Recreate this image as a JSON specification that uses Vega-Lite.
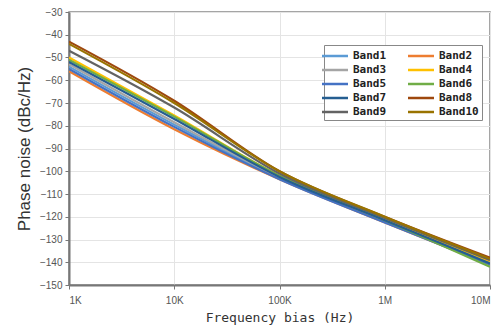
{
  "$schema": "https://vega.github.io/schema/vega-lite/v6.json",
  "width": 421,
  "height": 273,
  "autosize": {"type": "none"},
  "padding": {"left": 69, "top": 12, "right": 6, "bottom": 47},
  "background": "white",
  "config": {
    "view": {"stroke": "#888888", "strokeWidth": 1.5},
    "axis": {"gridColor": "#e4e4e4", "domainColor": "#777777", "domainWidth": 2, "tickColor": "#777777", "labelColor": "#555555", "labelFont": "Liberation Sans", "labelFontSize": 10, "titleColor": "#333333"}
  },
  "data": {"values": [
    {"f": 1000, "v": -54, "band": "Band1"}, {"f": 10000, "v": -79.5, "band": "Band1"}, {"f": 100000, "v": -103, "band": "Band1"}, {"f": 1000000, "v": -122, "band": "Band1"}, {"f": 10000000, "v": -140, "band": "Band1"},
    {"f": 1000, "v": -56, "band": "Band2"}, {"f": 10000, "v": -81.5, "band": "Band2"}, {"f": 100000, "v": -103.5, "band": "Band2"}, {"f": 1000000, "v": -122.5, "band": "Band2"}, {"f": 10000000, "v": -141, "band": "Band2"},
    {"f": 1000, "v": -53, "band": "Band3"}, {"f": 10000, "v": -78.5, "band": "Band3"}, {"f": 100000, "v": -102.5, "band": "Band3"}, {"f": 1000000, "v": -121.5, "band": "Band3"}, {"f": 10000000, "v": -140, "band": "Band3"},
    {"f": 1000, "v": -50, "band": "Band4"}, {"f": 10000, "v": -75.5, "band": "Band4"}, {"f": 100000, "v": -102, "band": "Band4"}, {"f": 1000000, "v": -121, "band": "Band4"}, {"f": 10000000, "v": -139.5, "band": "Band4"},
    {"f": 1000, "v": -55, "band": "Band5"}, {"f": 10000, "v": -80.5, "band": "Band5"}, {"f": 100000, "v": -103.5, "band": "Band5"}, {"f": 1000000, "v": -122.5, "band": "Band5"}, {"f": 10000000, "v": -141, "band": "Band5"},
    {"f": 1000, "v": -51, "band": "Band6"}, {"f": 10000, "v": -76, "band": "Band6"}, {"f": 100000, "v": -102, "band": "Band6"}, {"f": 1000000, "v": -121.5, "band": "Band6"}, {"f": 10000000, "v": -142, "band": "Band6"},
    {"f": 1000, "v": -52, "band": "Band7"}, {"f": 10000, "v": -77, "band": "Band7"}, {"f": 100000, "v": -102.5, "band": "Band7"}, {"f": 1000000, "v": -121.5, "band": "Band7"}, {"f": 10000000, "v": -140.5, "band": "Band7"},
    {"f": 1000, "v": -43, "band": "Band8"}, {"f": 10000, "v": -69, "band": "Band8"}, {"f": 100000, "v": -100, "band": "Band8"}, {"f": 1000000, "v": -120, "band": "Band8"}, {"f": 10000000, "v": -138, "band": "Band8"},
    {"f": 1000, "v": -47, "band": "Band9"}, {"f": 10000, "v": -72, "band": "Band9"}, {"f": 100000, "v": -101, "band": "Band9"}, {"f": 1000000, "v": -120.5, "band": "Band9"}, {"f": 10000000, "v": -139, "band": "Band9"},
    {"f": 1000, "v": -44, "band": "Band10"}, {"f": 10000, "v": -70, "band": "Band10"}, {"f": 100000, "v": -100, "band": "Band10"}, {"f": 1000000, "v": -120, "band": "Band10"}, {"f": 10000000, "v": -138.5, "band": "Band10"}
  ]},
  "mark": {"type": "line", "strokeWidth": 2.2, "interpolate": "monotone", "clip": true},
  "encoding": {
    "x": {
      "field": "f", "type": "quantitative",
      "scale": {"type": "log", "domain": [1000, 10000000], "nice": false},
      "axis": {"values": [1000, 10000, 100000, 1000000, 10000000],
        "labelExpr": "datum.value >= 1000000 ? format(datum.value/1000000, 'd') + 'M' : format(datum.value/1000, 'd') + 'K'",
        "title": "Frequency bias (Hz)", "titleFont": "DejaVu Sans Mono", "titleFontSize": 13, "titleFontWeight": "normal", "titlePadding": 6, "labelPadding": 6, "tickSize": 4}
    },
    "y": {
      "field": "v", "type": "quantitative",
      "scale": {"domain": [-150, -30], "nice": false},
      "axis": {"values": [-150, -140, -130, -120, -110, -100, -90, -80, -70, -60, -50, -40, -30],
        "title": "Phase noise (dBc/Hz)", "titleFont": "Liberation Sans", "titleFontSize": 17, "titleFontWeight": "normal", "titlePadding": 6, "labelPadding": 3, "tickSize": 4}
    },
    "color": {
      "field": "band", "type": "nominal",
      "scale": {
        "domain": ["Band1", "Band2", "Band3", "Band4", "Band5", "Band6", "Band7", "Band8", "Band9", "Band10"],
        "range": ["#5B9BD5", "#ED7D31", "#A5A5A5", "#FFC000", "#4472C4", "#70AD47", "#255E91", "#9E480E", "#636363", "#997300"]
      },
      "legend": {
        "orient": "none", "legendX": 255, "legendY": 33, "columns": 2, "direction": "horizontal", "title": null,
        "symbolType": "M-2,0H2", "symbolSize": 169, "symbolStrokeWidth": 2.5,
        "labelFont": "DejaVu Sans Mono", "labelFontWeight": "bold", "labelFontSize": 11, "labelColor": "#222222",
        "strokeColor": "#888888", "fillColor": "white", "padding": 3, "rowPadding": 1, "columnPadding": 16, "labelOffset": 10, "offset": 0
      }
    }
  }
}
